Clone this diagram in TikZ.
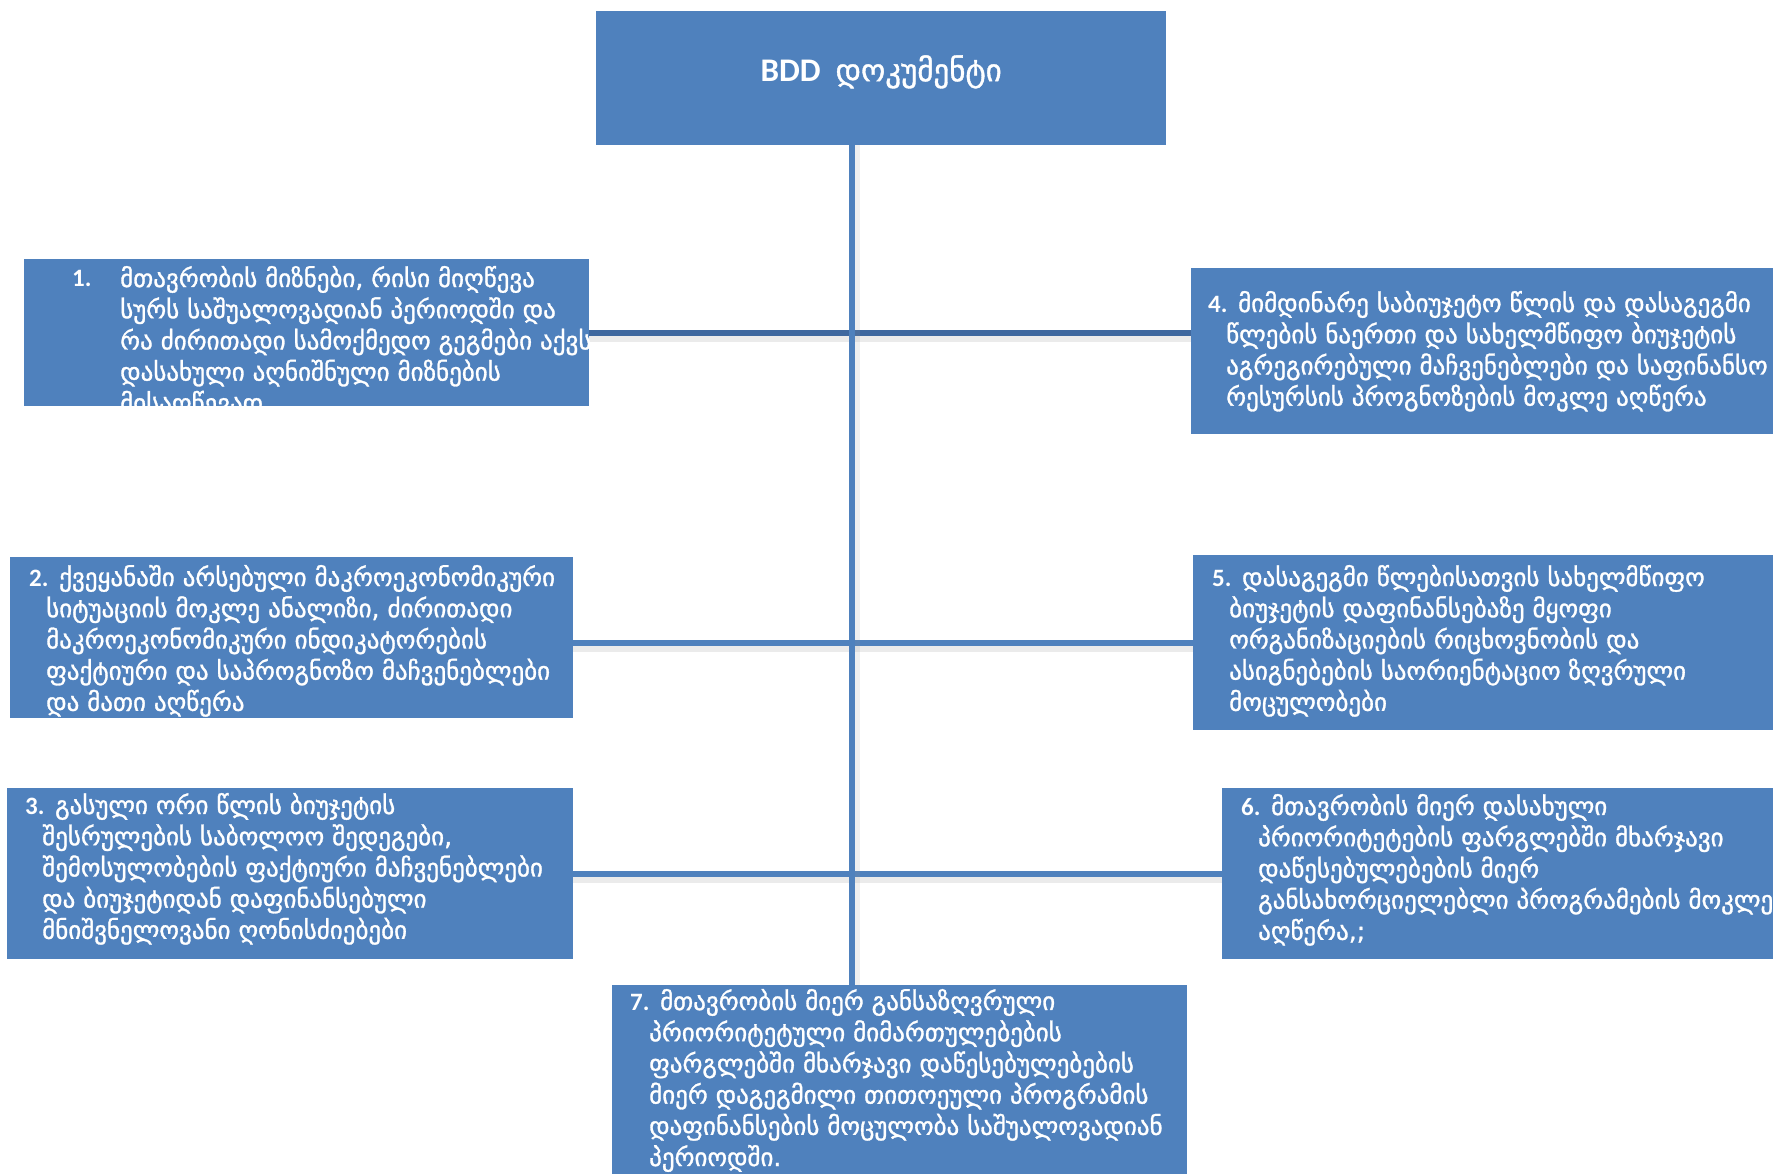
\documentclass[tikz,border=0pt]{standalone}
\usepackage{fontspec}
\setmainfont{Carlito}
\newfontfamily\latfont{Carlito}
\newfontfamily\geofont[FakeBold=1.2]{DejaVu Sans}
\definecolor{boxblue}{HTML}{4F81BD}
\definecolor{linedark}{HTML}{3F689F}
\definecolor{linelight}{HTML}{4F81BD}
\newcommand{\nr}[1]{{\latfont\bfseries #1}}

\tikzset{
  blockbox/.style={fill=boxblue, draw=none, inner sep=0pt, anchor=north west},
  blocktext/.style={text=white, align=left, inner sep=0pt, anchor=base west,
    font=\geofont\fontsize{25}{31.2}\selectfont},
  shadowed/.style={preaction={draw=black!40, opacity=0.2, line width=8pt,
    transform canvas={yshift=-5pt}}},
  joinline/.style={line width=6pt, draw=linelight},
}

\begin{document}
\begin{tikzpicture}[x=1pt, y=-1pt]
  \useasboundingbox (0,0) rectangle (1773,1174);

  % blocks
  \node[blockbox, minimum width=570pt, minimum height=134pt, text=white,
    font=\fontsize{33}{38}\selectfont] (title) at (596,11)
    {\raisebox{20pt}{\nr{BDD}\ \ {\geofont\fontsize{31}{36}\selectfont დოკუმენტი}}};
  \node[blockbox, minimum width=565pt, minimum height=147pt] (b1) at (24,259) {};
  \node[blockbox, minimum width=600pt, minimum height=166pt] (b4) at (1191,268) {};
  \node[blockbox, minimum width=563pt, minimum height=161pt] (b2) at (10,557) {};
  \node[blockbox, minimum width=600pt, minimum height=175pt] (b5) at (1193,555) {};
  \node[blockbox, minimum width=566pt, minimum height=171pt] (b3) at (7,788) {};
  \node[blockbox, minimum width=600pt, minimum height=171pt] (b6) at (1222,788) {};
  \node[blockbox, minimum width=575pt, minimum height=200pt] (b7) at (612,985) {};

  % connectors
  \coordinate (spine) at (852,0);
  \draw[joinline, shadowed, draw=linedark] (b1.east) -- (b1.east -| b4.west);
  \draw[joinline, shadowed] (b5.west -| b2.east) -- (b5.west);
  \draw[joinline, shadowed] (b3.east) -- (b3.east -| b6.west);
  \draw[joinline, preaction={draw=black!40, opacity=0.15, line width=8pt,
    transform canvas={xshift=4pt}}] (spine |- title.south) -- (spine |- b7.north);

  % texts (anchored at the baseline of the last line)
  \node[blocktext, font=\latfont\bfseries\fontsize{25}{31.2}\selectfont] (n1) at (72,287) {1.};
  \node[blocktext] (t1) at (120,411.8) {მთავრობის მიზნები, რისი მიღწევა\\
    სურს საშუალოვადიან პერიოდში და\\
    რა ძირითადი სამოქმედო გეგმები აქვს\\
    დასახული აღნიშნული მიზნების\\
    მისაღწევად};
  \node[blocktext] (t4) at (1208,405.6) {\nr{4.} მიმდინარე საბიუჯეტო წლის და დასაგეგმი\\
    \hspace*{18pt}წლების ნაერთი და სახელმწიფო ბიუჯეტის\\
    \hspace*{18pt}აგრეგირებული მაჩვენებლები და საფინანსო\\
    \hspace*{18pt}რესურსის პროგნოზების მოკლე აღწერა};
  \node[blocktext] (t2) at (29,710.8) {\nr{2.} ქვეყანაში არსებული მაკროეკონომიკური\\
    \hspace*{17pt}სიტუაციის მოკლე ანალიზი, ძირითადი\\
    \hspace*{17pt}მაკროეკონომიკური ინდიკატორების\\
    \hspace*{17pt}ფაქტიური და საპროგნოზო მაჩვენებლები\\
    \hspace*{17pt}და მათი აღწერა};
  \node[blocktext] (t5) at (1212,710.8) {\nr{5.} დასაგეგმი წლებისათვის სახელმწიფო\\
    \hspace*{17pt}ბიუჯეტის დაფინანსებაზე მყოფი\\
    \hspace*{17pt}ორგანიზაციების რიცხოვნობის და\\
    \hspace*{17pt}ასიგნებების საორიენტაციო ზღვრული\\
    \hspace*{17pt}მოცულობები};
  \node[blocktext] (t3) at (25,938.8) {\nr{3.} გასული ორი წლის ბიუჯეტის\\
    \hspace*{17pt}შესრულების საბოლოო შედეგები,\\
    \hspace*{17pt}შემოსულობების ფაქტიური მაჩვენებლები\\
    \hspace*{17pt}და ბიუჯეტიდან დაფინანსებული\\
    \hspace*{17pt}მნიშვნელოვანი ღონისძიებები};
  \node[blocktext] (t6) at (1241,939.8) {\nr{6.} მთავრობის მიერ დასახული\\
    \hspace*{17pt}პრიორიტეტების ფარგლებში მხარჯავი\\
    \hspace*{17pt}დაწესებულებების მიერ\\
    \hspace*{17pt}განსახორციელებლი პროგრამების მოკლე\\
    \hspace*{17pt}აღწერა,;};
  \node[blocktext] (t7) at (630,1166) {\nr{7.} მთავრობის მიერ განსაზღვრული\\
    \hspace*{19pt}პრიორიტეტული მიმართულებების\\
    \hspace*{19pt}ფარგლებში მხარჯავი დაწესებულებების\\
    \hspace*{19pt}მიერ დაგეგმილი თითოეული პროგრამის\\
    \hspace*{19pt}დაფინანსების მოცულობა საშუალოვადიან\\
    \hspace*{19pt}პერიოდში.};
\end{tikzpicture}
\end{document}
